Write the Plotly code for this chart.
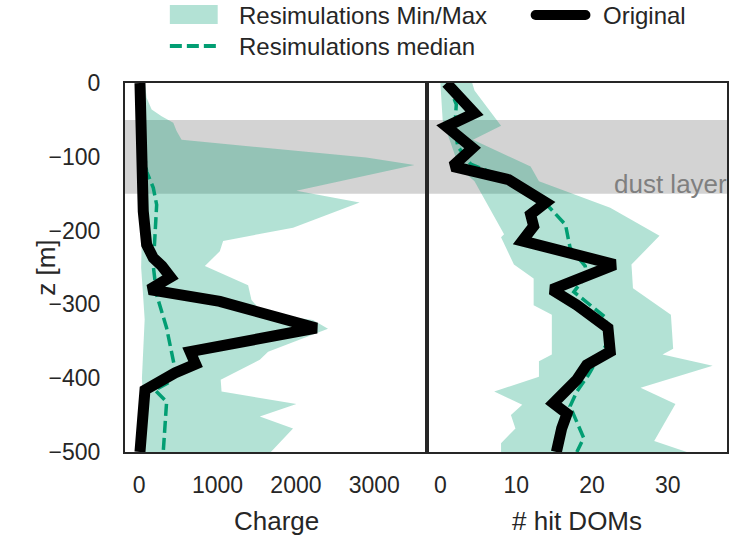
import plotly.graph_objects as go

# ---------------- data ----------------
# Left panel: Charge vs depth z [m]
charge_max_z = [0, -20, -36, -45, -54, -65, -77, -101, -111, -146, -162, -196, -214, -228, -248,
                -274, -294, -312, -321, -333, -364, -375, -402, -418, -435, -452, -468, -500]
charge_max = [74, 95, 159, 286, 435, 477, 541, 2898, 3513, 2006, 2813, 1963, 1071, 1029, 838,
              1390, 1433, 1581, 2218, 2409, 1645, 1539, 1040, 1051, 2006, 1539, 1963, 1680]
charge_min_z = [0, -100, -200, -250, -280, -320, -350, -400, -420, -460, -500]
charge_min = [15, 20, 35, 25, 45, 70, 55, 35, 45, 60, 70]
charge_orig_z = [0, -120, -174, -219, -237, -248, -263, -280, -296, -332, -364, -381, -393, -416, -500]
charge_orig = [10, 19, 52, 95, 180, 290, 400, 130, 1029, 2261, 650, 720, 456, 74, 10]
charge_med_z = [0, -83, -120, -142, -165, -205, -248, -287, -332, -387, -405, -416, -432, -500]
charge_med = [32, 52, 95, 180, 223, 201, 180, 223, 350, 456, 392, 201, 350, 307]

# Right panel: # hit DOMs vs depth z [m]
hits_max_z = [0, -10, -58, -77, -113, -133, -169, -207, -246, -278, -314, -360, -368, -383,
              -413, -435, -485, -500]
hits_max = [4.2, 4.5, 8.0, 4.3, 11.9, 13.0, 22.4, 28.9, 25.2, 25.4, 30.4, 30.7, 29.3, 35.9,
            26.4, 31.0, 28.2, 32.5]
hits_min_z = [0, -50, -115, -133, -169, -205, -209, -246, -265, -301, -314, -368, -377, -398,
              -418, -436, -450, -468, -488, -500]
hits_min = [0.0, 0.3, 2.5, 4.5, 6.4, 8.4, 8.0, 9.7, 12.3, 12.3, 14.7, 14.7, 13.0, 13.0,
            7.1, 10.8, 9.3, 9.9, 8.0, 8.0]
hits_orig_z = [0, -41, -59, -88, -113, -131, -162, -178, -194, -214, -246, -280, -301, -332,
               -364, -382, -402, -434, -448, -468, -500]
hits_orig = [0.8, 4.5, 0.8, 4.25, 1.6, 9.0, 13.9, 11.9, 12.3, 10.8, 23.0, 14.7, 18.0, 22.1,
             22.4, 19.3, 18.0, 14.9, 16.7, 16.0, 15.3]
hits_med_z = [0, -29, -61, -86, -110, -128, -160, -192, -223, -248, -260, -283, -317, -346,
              -373, -396, -418, -438, -481, -500]
hits_med = [1.0, 2.1, 1.9, 2.3, 4.0, 8.4, 13.6, 16.5, 17.1, 19.1, 19.3, 17.6, 21.7, 22.4,
            20.8, 19.5, 18.0, 17.1, 18.9, 18.0]

dust_layer = [-50, -150]
charge_ticks = [0, 1000, 2000, 3000]
hits_ticks = [0, 10, 20, 30]
z_ticks = [0, -100, -200, -300, -400, -500]

# ---------------- style ----------------
W, H = 739, 542
ML, MR, MT, MB = 125, 10, 83, 90
PW, PH = W - ML - MR, H - MT - MB
FONT = "Liberation Sans, Arial, Helvetica, sans-serif"
TXT = "#262626"
GREEN = "#029e73"
FILL = "rgba(2,158,115,0.3)"
SPLIT = (428.5 - ML) / PW


def px(x):
    return (x - ML) / PW


def py(y):
    return (H - MB - y) / PH


fig = go.Figure()


def add_panel(xa, ya, zmax, vmax, zmin, vmin, zmed, vmed, zorig, vorig):
    fig.add_trace(go.Scatter(
        x=list(vmax) + list(reversed(vmin)), y=list(zmax) + list(reversed(zmin)),
        fill="toself", fillcolor=FILL, mode="lines", line=dict(width=0),
        xaxis=xa, yaxis=ya, showlegend=False, hoverinfo="skip"))
    fig.add_trace(go.Scatter(
        x=vmed, y=zmed, mode="lines", line=dict(color=GREEN, width=3.5, dash="12px,5px"),
        xaxis=xa, yaxis=ya, showlegend=False))
    fig.add_trace(go.Scatter(
        x=vorig, y=zorig, mode="lines", line=dict(color="black", width=11),
        xaxis=xa, yaxis=ya, showlegend=False))


add_panel("x", "y", charge_max_z, charge_max, charge_min_z, charge_min,
          charge_med_z, charge_med, charge_orig_z, charge_orig)
add_panel("x2", "y2", hits_max_z, hits_max, hits_min_z, hits_min,
          hits_med_z, hits_med, hits_orig_z, hits_orig)

axis_common = dict(showgrid=False, zeroline=False, showline=True, linecolor=TXT,
                   linewidth=2, mirror=True, ticks="",
                   tickfont=dict(family=FONT, size=23, color=TXT))

fig.update_layout(
    width=W, height=H,
    margin=dict(l=ML, r=MR, t=MT, b=MB, pad=0),
    paper_bgcolor="white", plot_bgcolor="white",
    showlegend=False,
    font=dict(family=FONT, color=TXT),
    xaxis=dict(domain=[0, SPLIT], range=[-181, 3679], tickvals=charge_ticks,
               ticklabelstandoff=11, **axis_common),
    xaxis2=dict(domain=[SPLIT, 1], range=[-1.7, 37.8], tickvals=hits_ticks,
                anchor="y2", ticklabelstandoff=11, **axis_common),
    yaxis=dict(domain=[0, 1], range=[-500, 0], tickvals=z_ticks,
               ticklabelstandoff=18, **axis_common),
    yaxis2=dict(domain=[0, 1], range=[-500, 0], tickvals=z_ticks, anchor="x2",
                matches="y", showticklabels=False, **axis_common),
)

# dust layer band spanning both panels
fig.add_shape(type="rect", xref="paper", yref="y", x0=0, x1=1,
              y0=dust_layer[1], y1=dust_layer[0], fillcolor="rgba(128,128,128,0.35)",
              line=dict(width=0), layer="below")
fig.add_annotation(text="dust layer", xref="x2 domain", x=1, yref="y", y=-137,
                   xanchor="right", yanchor="middle", showarrow=False, xshift=2,
                   font=dict(family=FONT, size=26, color="#7f7f7f"))

# axis titles
fig.add_annotation(text="Charge", xref="x domain", x=0.5, yref="paper", y=py(521),
                   xanchor="center", yanchor="middle", showarrow=False,
                   font=dict(family=FONT, size=26, color=TXT))
fig.add_annotation(text="# hit DOMs", xref="x2 domain", x=0.5, yref="paper", y=py(521),
                   xanchor="center", yanchor="middle", showarrow=False,
                   font=dict(family=FONT, size=26, color=TXT))
fig.add_annotation(text="z [m]", xref="paper", x=px(45), yref="paper", y=0.5,
                   xanchor="center", yanchor="middle", textangle=-90, showarrow=False,
                   font=dict(family=FONT, size=26, color=TXT))

# legend (drawn with shapes + text)
LEG_FONT = dict(family=FONT, size=24, color=TXT)
fig.add_shape(type="rect", xref="paper", yref="paper", x0=px(170), x1=px(218),
              y0=py(24), y1=py(5), fillcolor=FILL, line=dict(width=0))
fig.add_annotation(text="Resimulations Min/Max", xref="paper", yref="paper",
                   x=px(237), y=py(15), xanchor="left", yanchor="middle",
                   showarrow=False, font=LEG_FONT)
fig.add_shape(type="line", xref="paper", yref="paper", x0=px(537), x1=px(587),
              y0=py(15), y1=py(15), line=dict(color="black", width=10))
fig.add_shape(type="circle", xref="paper", yref="paper", x0=px(532), x1=px(542),
              y0=py(20), y1=py(10), fillcolor="black", line=dict(width=0))
fig.add_shape(type="circle", xref="paper", yref="paper", x0=px(582), x1=px(592),
              y0=py(20), y1=py(10), fillcolor="black", line=dict(width=0))
fig.add_annotation(text="Original", xref="paper", yref="paper",
                   x=px(603), y=py(15), xanchor="left", yanchor="middle",
                   showarrow=False, font=LEG_FONT)
fig.add_shape(type="line", xref="paper", yref="paper", x0=px(170), x1=px(218),
              y0=py(46), y1=py(46), line=dict(color=GREEN, width=4, dash="12px,5px"))
fig.add_annotation(text="Resimulations median", xref="paper", yref="paper",
                   x=px(237), y=py(47), xanchor="left", yanchor="middle",
                   showarrow=False, font=LEG_FONT)

fig.write_html("out.html")
